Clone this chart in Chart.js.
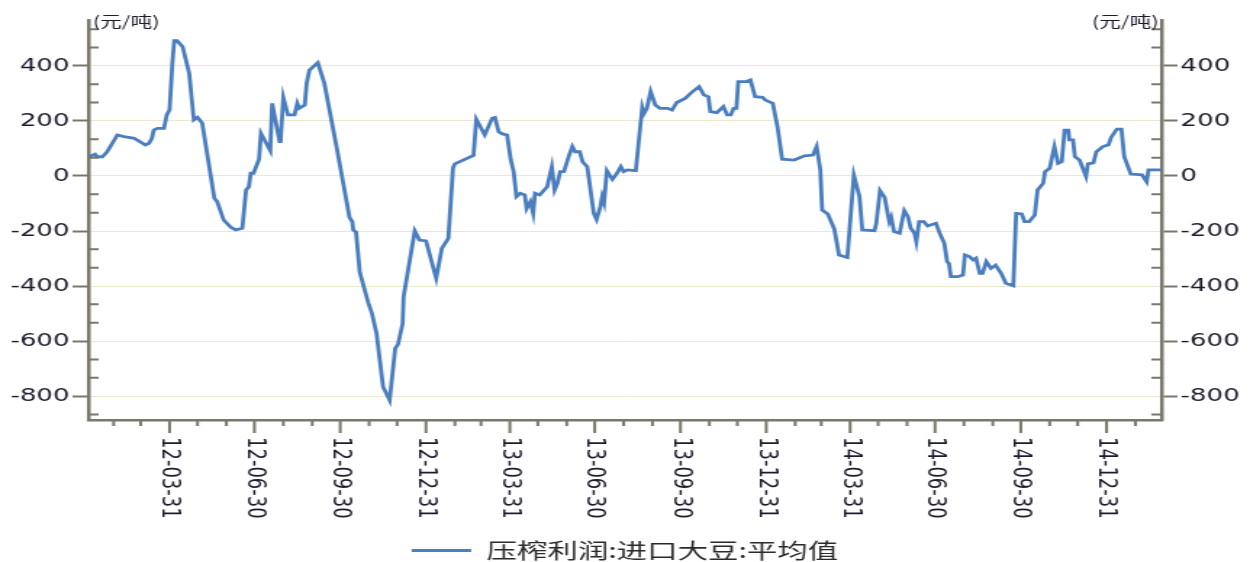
<!DOCTYPE html>
<html>
<head>
<meta charset="utf-8">
<script src="https://cdn.jsdelivr.net/npm/chart.js@4.4.1/dist/chart.umd.min.js"></script>
<style>
  html, body { margin: 0; padding: 0; background: #fff; }
</style>
</head>
<body>
<!-- the source picture is stretched sideways, so the canvas is drawn narrow and widened by css -->
<canvas id="grafica" width="862" height="562" style="width:1250px;height:562px"></canvas>
<script>
const fechas = [
  '2012-01-04', '2012-01-11', '2012-01-13', '2012-01-19', '2012-01-24', '2012-02-04', '2012-02-11', '2012-02-22',
  '2012-03-05', '2012-03-09', '2012-03-12', '2012-03-14', '2012-03-18', '2012-03-25', '2012-03-28', '2012-03-31',
  '2012-04-03', '2012-04-05', '2012-04-08', '2012-04-14', '2012-04-21', '2012-04-26', '2012-04-30', '2012-05-05',
  '2012-05-18', '2012-05-21', '2012-05-28', '2012-06-05', '2012-06-10', '2012-06-17', '2012-06-21', '2012-06-24',
  '2012-06-26', '2012-06-29', '2012-07-05', '2012-07-07', '2012-07-17', '2012-07-19', '2012-07-27', '2012-07-28',
  '2012-07-31', '2012-08-05', '2012-08-12', '2012-08-15', '2012-08-17', '2012-08-23', '2012-08-25', '2012-08-28',
  '2012-09-06', '2012-09-13', '2012-09-26', '2012-10-10', '2012-10-13', '2012-10-14', '2012-10-17', '2012-10-21',
  '2012-10-30', '2012-11-03', '2012-11-08', '2012-11-15', '2012-11-22', '2012-11-28', '2012-12-01', '2012-12-06',
  '2012-12-07', '2012-12-19', '2012-12-24', '2012-12-31', '2013-01-11', '2013-01-17', '2013-01-24', '2013-01-29',
  '2013-01-31', '2013-02-20', '2013-02-23', '2013-03-04', '2013-03-12', '2013-03-15', '2013-03-19', '2013-03-23',
  '2013-03-28', '2013-04-01', '2013-04-04', '2013-04-07', '2013-04-11', '2013-04-16', '2013-04-18', '2013-04-22',
  '2013-04-25', '2013-04-27', '2013-05-02', '2013-05-10', '2013-05-15', '2013-05-18', '2013-05-21', '2013-05-24',
  '2013-05-28', '2013-06-02', '2013-06-06', '2013-06-09', '2013-06-14', '2013-06-17', '2013-06-22', '2013-06-29',
  '2013-07-02', '2013-07-06', '2013-07-08', '2013-07-10', '2013-07-13', '2013-07-19', '2013-07-24', '2013-07-28',
  '2013-07-31', '2013-08-04', '2013-08-13', '2013-08-20', '2013-08-22', '2013-08-25', '2013-08-29', '2013-09-03',
  '2013-09-08', '2013-09-16', '2013-09-21', '2013-09-26', '2013-10-05', '2013-10-13', '2013-10-20', '2013-10-25',
  '2013-10-30', '2013-11-01', '2013-11-08', '2013-11-15', '2013-11-19', '2013-11-23', '2013-11-26', '2013-11-29',
  '2013-12-01', '2013-12-09', '2013-12-14', '2013-12-19', '2013-12-27', '2013-12-30', '2014-01-07', '2014-01-12',
  '2014-01-17', '2014-01-30', '2014-02-10', '2014-02-19', '2014-02-23', '2014-02-27', '2014-03-01', '2014-03-07',
  '2014-03-14', '2014-03-19', '2014-03-28', '2014-04-04', '2014-04-10', '2014-04-13', '2014-04-26', '2014-04-28',
  '2014-05-02', '2014-05-07', '2014-05-11', '2014-05-12', '2014-05-14', '2014-05-17', '2014-05-23', '2014-05-28',
  '2014-06-01', '2014-06-04', '2014-06-08', '2014-06-10', '2014-06-13', '2014-06-18', '2014-06-22', '2014-07-01',
  '2014-07-05', '2014-07-10', '2014-07-13', '2014-07-15', '2014-07-17', '2014-07-24', '2014-07-30', '2014-08-01',
  '2014-08-06', '2014-08-10', '2014-08-13', '2014-08-17', '2014-08-20', '2014-08-24', '2014-08-29', '2014-09-03',
  '2014-09-09', '2014-09-14', '2014-09-22', '2014-09-25', '2014-10-01', '2014-10-04', '2014-10-09', '2014-10-15',
  '2014-10-18', '2014-10-24', '2014-10-26', '2014-10-31', '2014-11-05', '2014-11-09', '2014-11-13', '2014-11-16',
  '2014-11-20', '2014-11-21', '2014-11-25', '2014-11-27', '2014-12-02', '2014-12-09', '2014-12-11', '2014-12-17',
  '2014-12-20', '2014-12-27', '2015-01-02', '2015-01-05', '2015-01-11', '2015-01-16', '2015-01-19', '2015-01-23',
  '2015-01-26', '2015-02-07', '2015-02-12', '2015-02-14', '2015-02-28',
];
const margen = [
  70, 79, 70, 70, 88, 149, 143, 137,
  113, 119, 137, 167, 173, 173, 222, 240,
  410, 492, 492, 470, 373, 204, 213, 192,
  -81, -93, -160, -187, -196, -190, -51, -39,
  10, 10, 61, 155, 92, 264, 125, 125,
  286, 222, 222, 264, 246, 258, 337, 385,
  412, 337, 107, -150, -166, -196, -204, -350,
  -460, -499, -572, -766, -815, -627, -612, -536,
  -439, -200, -233, -236, -372, -263, -227, 30,
  44, 75, 206, 149, 210, 213, 161, 153,
  149, 58, 16, -75, -63, -69, -118, -93,
  -136, -63, -69, -39, 34, -51, -27, 16,
  16, 70, 107, 88, 88, 52, 34, -136,
  -158, -112, -75, -97, 19, -12, 10, 34,
  16, 22, 19, 250, 228, 246, 307, 258,
  246, 246, 240, 267, 282, 307, 325, 295,
  288, 234, 230, 252, 222, 222, 246, 246,
  343, 343, 349, 288, 286, 276, 264, 179,
  61, 58, 73, 76, 107, 22, -124, -138,
  -193, -287, -296, 2, -75, -196, -199, -172,
  -53, -78, -150, -166, -150, -202, -208, -126,
  -148, -190, -208, -239, -166, -166, -182, -172,
  -208, -245, -311, -318, -366, -366, -360, -287,
  -293, -305, -299, -354, -354, -311, -336, -324,
  -354, -390, -399, -136, -138, -166, -166, -142,
  -51, -27, 16, 28, 107, 46, 52, 167,
  167, 131, 131, 70, 58, -2, 44, 48,
  88, 107, 113, 141, 170, 170, 70, 34,
  7, 4, -21, 22, 22,
];
const yMayores = [-800, -600, -400, -200, 0, 200, 400];
const yMin = -887;
const yMax = 567;
const serieNombre = '压榨利润:进口大豆:平均值';
const unidad = '(元/吨)';

const colorEje = '#7a776c';
const colorTexto = '#1c1c2c';
const fuenteNum = "'DejaVu Sans'";
const fuenteCjk = "'Noto Sans CJK SC'";

// days since 2012-01-01, used as the x value
const dia = (s) => (Date.parse(s) - Date.parse('2012-01-01')) / 864e5;
const puntos = fechas.map((f, i) => ({ x: dia(f), y: margen[i] }));
const xMin = dia(fechas[0]);
const xMax = dia(fechas[fechas.length - 1]);

// month-end ticks, quarter ends get a label
const pad = (n) => String(n).padStart(2, '0');
const finesDeMes = [];
for (let a = 2012; a <= 2015; a += 1) {
  for (let m = 0; m < 12; m += 1) {
    const t = Date.UTC(a, m + 1, 0);
    const d = (t - Date.parse('2012-01-01')) / 864e5;
    if (d > xMin && d < xMax) {
      const fin = new Date(t);
      finesDeMes.push({
        dia: d,
        trimestre: (m + 1) % 3 === 0,
        texto: `${String(a).slice(2)}-${pad(m + 1)}-${pad(fin.getUTCDate())}`,
      });
    }
  }
}

const marcasEjes = {
  id: 'marcasEjes',
  afterDraw(chart) {
    const { ctx, chartArea: area, scales: { x, y } } = chart;
    ctx.save();
    ctx.strokeStyle = colorEje;
    ctx.lineWidth = 2;
    ctx.beginPath();
    // minor ticks on both y axes point inwards
    for (let k = -13; k <= 8; k += 1) {
      if (k % 3 !== 0) {
        const py = y.getPixelForValue((k * 200) / 3);
        ctx.moveTo(area.left, py);
        ctx.lineTo(area.left + 7, py);
        ctx.moveTo(area.right, py);
        ctx.lineTo(area.right - 7, py);
      }
    }
    finesDeMes.forEach((m) => {
      const px = x.getPixelForValue(m.dia);
      ctx.moveTo(px, area.bottom);
      ctx.lineTo(px, area.bottom + (m.trimestre ? 13 : 6));
    });
    ctx.stroke();

    ctx.fillStyle = colorTexto;
    ctx.font = `18px ${fuenteNum}`;
    ctx.textAlign = 'left';
    ctx.textBaseline = 'middle';
    finesDeMes.filter((m) => m.trimestre).forEach((m) => {
      const px = x.getPixelForValue(m.dia);
      ctx.save();
      ctx.translate(px, area.bottom + 17);
      ctx.rotate(Math.PI / 2);
      ctx.fillText(m.texto, 0, 0);
      ctx.restore();
    });

    ctx.font = `15px ${fuenteCjk}`;
    ctx.textAlign = 'left';
    ctx.fillText(unidad, area.left + 3, area.top + 1);
    ctx.textAlign = 'right';
    ctx.fillText(unidad, area.right - 2, area.top + 1);
    ctx.restore();
  },
};

const ejeY = (posicion, sobreArea) => ({
  position: posicion,
  min: yMin,
  max: yMax,
  afterBuildTicks: (s) => { s.ticks = yMayores.map((v) => ({ value: v })); },
  afterFit: (s) => { s.width = 61; },
  grid: {
    drawOnChartArea: sobreArea,
    color: '#eee7cf',
    lineWidth: 1,
    drawTicks: true,
    tickLength: 11,
    tickColor: colorEje,
    tickWidth: 2,
  },
  border: { display: true, color: colorEje, width: 2.5 },
  ticks: {
    padding: 2,
    color: colorTexto,
    font: { family: fuenteNum, size: 18 },
    callback: (v) => String(v),
  },
});

// eslint-disable-next-line no-undef, no-new
new Chart(document.querySelector('#grafica'), {
  type: 'line',
  data: {
    datasets: [{
      label: serieNombre,
      data: puntos,
      yAxisID: 'y',
      borderColor: '#4a7ebf',
      backgroundColor: '#4a7ebf',
      borderWidth: 2.8,
      pointRadius: 0,
      tension: 0,
      fill: false,
    }],
  },
  options: {
    responsive: false,
    animation: false,
    devicePixelRatio: 1,
    layout: { padding: { top: 20, left: 0, right: 0, bottom: 0 } },
    scales: {
      x: {
        type: 'linear',
        min: xMin,
        max: xMax,
        afterFit: (s) => { s.height = 118; },
        grid: { display: false },
        border: { display: true, color: colorEje, width: 2.5 },
        ticks: { display: false },
      },
      y: ejeY('left', true),
      y2: ejeY('right', false),
    },
    plugins: {
      tooltip: { enabled: false },
      legend: {
        position: 'bottom',
        maxHeight: 24,
        labels: {
          usePointStyle: true,
          pointStyle: 'line',
          pointStyleWidth: 41,
          padding: 2,
          color: '#2a2a2a',
          font: { family: fuenteCjk, size: 21 },
        },
      },
    },
  },
  plugins: [marcasEjes],
});
</script>
</body>
</html>
